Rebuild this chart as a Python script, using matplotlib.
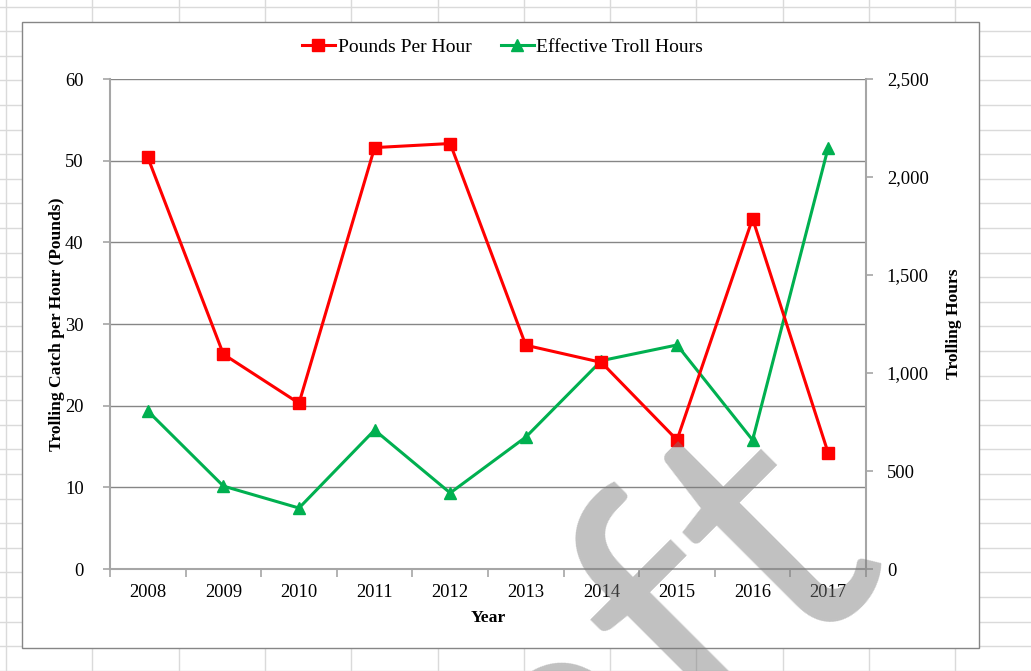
import matplotlib
matplotlib.use("Agg")
import matplotlib.pyplot as plt
from matplotlib.ticker import FuncFormatter, FixedLocator
from matplotlib.lines import Line2D
from matplotlib.patches import Rectangle

years = ["2008", "2009", "2010", "2011", "2012", "2013", "2014", "2015", "2016", "2017"]
pounds_per_hour = [50.4, 26.3, 20.3, 51.6, 52.1, 27.4, 25.3, 15.8, 42.9, 14.2]
troll_hours = [806, 423, 311, 709, 388, 673, 1063, 1143, 658, 2150]

W, H = 1031, 671
plt.rcParams['font.family'] = ['Liberation Serif', 'DejaVu Serif']

fig = plt.figure(figsize=(W / 100, H / 100), dpi=100)

# spreadsheet background
bg = fig.add_axes([0, 0, 1, 1], zorder=-10)
bg.set_xlim(0, W)
bg.set_ylim(H, 0)
bg.axis('off')
gcol = '#dadada'
x = 6.0
while x < W:
    bg.axvline(x, color=gcol, lw=1.0)
    x += 86.3
y = 6.6
while y < H:
    bg.axhline(y, color=gcol, lw=1.0)
    y += 24.6
bg.add_patch(Rectangle((22, 22), 957, 626, facecolor='white', edgecolor='#868686', lw=1.0, zorder=5))

# main axes
L, R, T, B = 110, 866, 79, 569
ax = fig.add_axes([L / W, 1 - B / H, (R - L) / W, (B - T) / H], zorder=1)
ax.patch.set_visible(False)
xs = list(range(len(years)))

spine_col = '#a6a6a6'
grid_col = '#868686'

ax.set_xlim(-0.5, len(years) - 0.5)
ax.set_ylim(0, 60)
ax.set_yticks(range(0, 61, 10))
ax.yaxis.grid(True, color=grid_col, lw=1.0)
ax.set_axisbelow(True)
ax.xaxis.set_major_locator(FixedLocator([i - 0.5 for i in range(len(years) + 1)]))
ax.xaxis.set_minor_locator(FixedLocator(xs))
ax.set_xticklabels([])
ax.set_xticklabels(years, minor=True)
ax.tick_params(axis='x', which='major', direction='out', length=6, color=spine_col, width=1.2)
ax.tick_params(axis='x', which='minor', length=0, pad=11, labelsize=13.3)
ax.tick_params(axis='y', direction='out', length=5, color=spine_col, width=1.2, labelsize=13.3, pad=14)
for s in ['top', 'right']:
    ax.spines[s].set_visible(False)
for s in ['left', 'bottom']:
    ax.spines[s].set_color(spine_col)
    ax.spines[s].set_linewidth(1.5)

ax2 = ax.twinx()
ax2.set_zorder(2)
ax2.set_ylim(0, 2500)
ax2.set_yticks(range(0, 2501, 500))
ax2.yaxis.set_major_formatter(FuncFormatter(lambda v, p: f"{int(v):,}"))
ax2.tick_params(axis='y', direction='out', length=5, color=spine_col, width=1.2, labelsize=13.3, pad=10)
for s in ['top', 'left', 'bottom']:
    ax2.spines[s].set_visible(False)
ax2.spines['right'].set_color(spine_col)
ax2.spines['right'].set_linewidth(1.5)

red = '#ff0000'
green = '#00b050'
ax2.plot(xs, troll_hours, color=green, lw=2.2, marker='^', markersize=9, zorder=3, clip_on=False)
# red series plotted with the left-axis scale, drawn above the green one
l1 = Line2D(xs, pounds_per_hour, color=red, lw=2.2, marker='s', markersize=8.5, zorder=4,
            transform=ax.transData, clip_on=False)
ax2.add_artist(l1)

ax.set_ylabel("Trolling Catch per Hour (Pounds)", fontsize=12.6, fontweight='bold', labelpad=0)
ax2.set_ylabel("Trolling Hours", fontsize=12.6, fontweight='bold', labelpad=12)
ax.set_xlabel("Year", fontsize=12.6, fontweight='bold', labelpad=6)

h1 = Line2D([], [], color=red, lw=2.2, marker='s', markersize=8.5)
h2 = Line2D([], [], color=green, lw=2.2, marker='^', markersize=9)
fig.legend([h1, h2], ["Pounds Per Hour", "Effective Troll Hours"], loc='center',
           bbox_to_anchor=(502.5 / W, 1 - 47 / H), ncol=2, frameon=False, fontsize=14,
           handlelength=1.7, handletextpad=0.15, columnspacing=1.5)

# watermark
fig.text(885 / W, 1 - 546 / H, "Draft", rotation=45, rotation_mode='anchor', ha='right', va='baseline',
         fontsize=262, fontweight='normal', family='Lato', color='#7b7b7b', alpha=0.47, zorder=20)

fig.savefig("out.png", dpi=100)
